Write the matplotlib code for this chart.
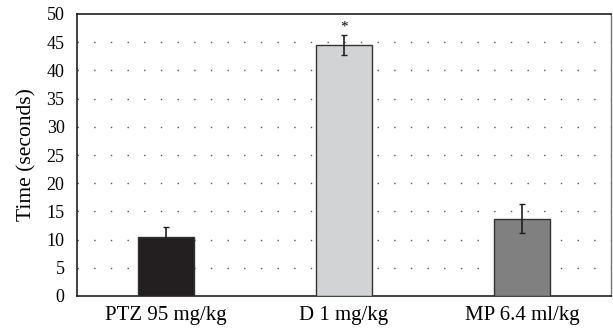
import matplotlib
matplotlib.use("Agg")
import matplotlib.pyplot as plt

categories = ["PTZ 95 mg/kg", "D 1 mg/kg", "MP 6.4 ml/kg"]
values = [10.5, 44.5, 13.7]
errors = [1.7, 1.8, 2.6]
colors = ["#231f20", "#d1d3d4", "#808080"]
yticks = [0, 5, 10, 15, 20, 25, 30, 35, 40, 45, 50]

plt.rcParams['font.family'] = ['Liberation Serif', 'DejaVu Serif']

fig = plt.figure(figsize=(6.13, 3.34), dpi=100)
ax = fig.add_axes([77/613, 1 - 296/334, 534/613, 282/334])

x = list(range(len(categories)))
ax.bar(x, values, width=0.315, color=colors, edgecolor="#333333", linewidth=1.0, zorder=3)
ax.errorbar(x, values, yerr=errors, fmt="none", ecolor="#231f20", elinewidth=1.2,
            capsize=2.5, capthick=1.0, zorder=4)
ax.text(1, values[1] + errors[1] + 0.3, "*", ha="center", va="bottom", fontsize=11, zorder=5)

ax.set_xlim(-0.5, 2.5)
ax.set_ylim(0, 50)
ax.set_yticks(yticks)
ax.set_yticklabels([str(t) for t in yticks], fontsize=13)
ax.set_xticks(x)
ax.set_xticklabels(categories, fontsize=15)
ax.tick_params(axis="y", length=0, pad=9)
ax.tick_params(axis="x", length=0, pad=7)
ax.set_ylabel("Time (seconds)", fontsize=15.5, labelpad=7)

for t in yticks[1:-1]:
    ax.axhline(t, color="#555555", linestyle=(0, (1, 11)), linewidth=1.0, zorder=1)

for s in ["left", "bottom", "top"]:
    ax.spines[s].set_color("#231f20")
    ax.spines[s].set_linewidth(1.2)
ax.spines["right"].set_color("#777777")
ax.spines["right"].set_linewidth(1.0)

fig.savefig("out.png", dpi=100)
